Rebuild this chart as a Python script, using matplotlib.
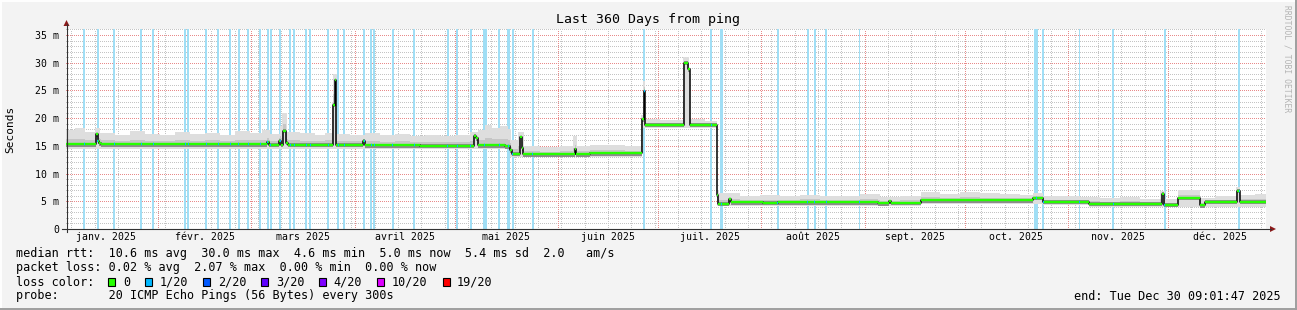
import numpy as np
import matplotlib
matplotlib.use("Agg")
import matplotlib.pyplot as plt
from matplotlib.lines import Line2D
from matplotlib.patches import Rectangle, Polygon

W, H = 1297, 310
MONO = "DejaVu Sans Mono"

# x axis = day of year 2025 (0 = 1 Jan 00:00), 360 days ending 30 Dec 09:01:47
t_start = 3.376
t_end = 363.376
y_top = 36.08

month_days = [31, 28, 31, 30, 31, 30, 31, 31, 30, 31, 30, 31]
month_labels = ["janv. 2025", "févr. 2025", "mars 2025", "avril 2025", "mai 2025",
                "juin 2025", "juil. 2025", "août 2025", "sept. 2025", "oct. 2025",
                "nov. 2025", "déc. 2025"]
first_monday = 5

# median rtt (ms), step function
median_day = [3.376, 12.40, 12.85, 13.30, 13.90, 63.70, 64.15, 67.30, 67.75, 68.50,
              69.40, 70.00, 83.50, 83.95, 84.40, 92.50, 92.96, 109.61, 125.81, 126.41,
              126.86, 135.11, 136.61, 137.21, 139.46, 140.06, 140.51, 155.96, 156.41, 160.61,
              176.21, 176.66, 177.11, 188.81, 190.01, 190.46, 198.57, 199.02, 202.32, 202.92,
              212.52, 217.02, 247.02, 250.32, 250.92, 259.92, 279.12, 293.53, 296.53, 310.33,
              332.23, 332.83, 337.03, 343.63, 345.13, 354.73, 355.48]
median_ms = [15.3, 17.1, 15.8, 15.5, 15.25, 15.7, 15.2, 15.9, 15.2, 17.7,
             15.6, 15.2, 22.4, 26.8, 15.2, 15.9, 15.1, 15.0, 16.8, 16.4,
             15.1, 14.9, 14.2, 13.6, 16.6, 14.6, 13.5, 14.4, 13.5, 13.7,
             19.8, 24.9, 18.8, 30.0, 28.8, 18.8, 6.1, 4.6, 5.4, 4.85,
             4.75, 4.85, 4.65, 5.0, 4.7, 5.2, 5.15, 5.6, 4.95, 4.55,
             6.4, 4.4, 5.6, 4.3, 4.95, 6.9, 4.95]

# top of the smoke (slowest pings)
smoke_day = [3.376, 6.10, 9.10, 12.10, 13.60, 18.10, 22.60, 27.10, 31.60, 36.10,
             40.60, 45.10, 49.60, 54.10, 58.60, 62.20, 64.60, 67.60, 68.20, 69.70,
             73.60, 78.10, 81.10, 83.20, 83.50, 84.70, 88.60, 93.10, 97.60, 102.11,
             106.61, 111.11, 115.61, 120.11, 124.61, 127.01, 129.11, 131.21, 133.61, 136.01,
             136.91, 139.01, 140.81, 145.61, 151.61, 155.51, 156.71, 160.61, 166.61, 171.11,
             175.91, 176.51, 177.11, 181.61, 188.51, 190.31, 195.11, 198.57, 199.32, 205.62,
             211.62, 217.62, 223.62, 229.62, 235.62, 241.62, 247.62, 253.62, 259.92, 265.62,
             271.62, 277.62, 283.62, 289.62, 293.53, 296.53, 301.63, 307.63, 313.63, 319.63,
             325.63, 331.63, 333.13, 337.03, 343.63, 348.13, 354.43, 355.63, 360.13]
smoke_hi = [17.8, 18.2, 17.5, 18.3, 17.4, 17.0, 17.6, 17.2, 17.0, 17.5,
            17.1, 17.4, 17.0, 17.6, 17.3, 17.8, 17.2, 18.5, 21.0, 17.5,
            17.3, 17.0, 17.4, 23.0, 28.0, 17.2, 17.0, 17.4, 16.9, 17.1,
            16.8, 17.0, 16.8, 16.9, 17.5, 17.8, 18.8, 18.3, 18.6, 18.0,
            16.0, 17.5, 15.0, 14.8, 15.0, 16.8, 15.0, 15.2, 15.1, 15.0,
            20.5, 26.7, 19.8, 19.6, 31.0, 19.8, 19.5, 7.0, 6.5, 6.0,
            6.1, 5.9, 6.2, 5.9, 6.0, 6.3, 5.8, 6.0, 6.6, 6.4,
            6.7, 6.5, 6.3, 6.2, 6.5, 6.0, 5.9, 5.8, 5.6, 5.8,
            5.5, 6.8, 5.4, 7.0, 5.6, 6.0, 7.6, 6.2, 6.3]

# bottom of the smoke (fastest pings)
lo_day = [3.376, 109.61, 136.61, 176.21, 198.57, 259.92, 296.53, 310.33]
lo_ms = [14.5, 14.4, 13.0, 18.2, 4.1, 4.5, 4.3, 4.0]

# periods with 1/20 packet loss
loss_day = [8.80, 12.85, 17.80, 25.90, 29.50, 39.10, 40.00, 45.40, 49.00, 52.60,
            55.15, 58.00, 61.60, 63.85, 64.75, 67.60, 70.60, 71.80, 75.40, 76.60,
            82.00, 85.00, 86.80, 92.90, 94.90, 95.90, 101.42, 107.81, 117.92, 120.80,
            124.82, 129.00, 133.40, 136.15, 137.42, 143.42, 176.90, 196.90, 200.00, 216.95,
            225.95, 227.93, 231.50, 241.40, 294.42, 296.61, 307.50, 317.61, 333.06, 355.29]
loss_len = [0.6] * len(loss_day)
for i, d in [(24, 0.8), (31, 1.3), (33, 0.8), (38, 0.8), (43, 0.4), (44, 1.0), (46, 0.3)]:
    loss_len[i] = d

title = "Last 360 Days from ping"
legend_rtt = "median rtt:  10.6 ms avg  30.0 ms max  4.6 ms min  5.0 ms now  5.4 ms sd  2.0   am/s"
legend_loss = "packet loss: 0.02 % avg  2.07 % max  0.00 % min  0.00 % now"
legend_probe = "probe:       20 ICMP Echo Pings (56 Bytes) every 300s"
legend_end = "end: Tue Dec 30 09:01:47 2025"
loss_names = ["0", "1/20", "2/20", "3/20", "4/20", "10/20", "19/20"]
loss_colors = ["#26ff00", "#00b8ff", "#0059ff", "#5e00ff", "#7e00ff", "#dd00ff", "#ff0000"]


def step_at(days, vals, t):
    idx = np.searchsorted(days, t, side="right") - 1
    return np.asarray(vals)[np.clip(idx, 0, None)]


def fx(x):
    return x / W


def fy(y):
    return 1 - y / H


fig = plt.figure(figsize=(W / 100, H / 100), dpi=100, facecolor="#f3f3f3")
ax = fig.add_axes([fx(66), fy(229), 1200 / W, 200 / H])
ax.set_facecolor("white")
for s in ax.spines.values():
    s.set_visible(False)
ax.set_xlim(t_start, t_end)
ax.set_ylim(0, y_top)

# loss bars
ax.bar(loss_day, y_top, width=loss_len, bottom=0, color="#a0def5", linewidth=0, zorder=1)

# grid, crisp dotted lines
dots = (0, (1, 2))
gkw = dict(lw=0.72, ls=dots, antialiased=False)
for v in range(1, 37):
    if v % 5:
        ax.axhline(v, color="#c4c4c4", zorder=0.5, **gkw)
    else:
        ax.axhline(v, color="#e88a8a", zorder=0.6, **gkw)
for d in np.arange(first_monday, t_end, 7):
    if d > t_start:
        ax.axvline(d, color="#c4c4c4", zorder=0.5, **gkw)
month_start = np.cumsum([0] + month_days)
for d in month_start:
    if t_start < d < t_end:
        ax.axvline(d, color="#e88a8a", zorder=0.6, **gkw)

# smoke
grid = np.unique(np.concatenate([median_day, smoke_day, lo_day, [t_end]]))
med = step_at(median_day, median_ms, grid)
hi = np.maximum(step_at(smoke_day, smoke_hi, grid), med + 0.3)
lo = np.minimum(step_at(lo_day, lo_ms, grid), med - 0.5)
ax.fill_between(grid, lo, hi, step="post", color="#dedede", lw=0, zorder=2)
ax.fill_between(grid, med - 0.35, med + 0.35 * (hi - med), step="post", color="#c6c6c6", lw=0, zorder=2.1)
ax.fill_between(grid, med - 0.45, med + 0.25, step="post", color="#8c8c8c", lw=0, zorder=2.2)

# median line
ax.step(grid, med, where="post", color="black", lw=1.1, zorder=3)
seg_end = list(median_day[1:]) + [t_end]
ax.hlines(median_ms, median_day, seg_end, colors=loss_colors[0], lw=1.7, zorder=3.1)
loss_arr = np.array(loss_day)
ax.hlines(step_at(median_day, median_ms, loss_arr), loss_arr - 0.15, loss_arr + 0.15,
          colors=loss_colors[1], lw=1.7, zorder=3.2)

# ticks
yt = list(range(0, 36, 5))
ax.set_yticks(yt)
ax.set_yticklabels(["0"] + ["%d m" % v for v in yt[1:]], fontfamily=MONO, fontsize=7.1)
month_mid = month_start[:-1] + np.array(month_days) / 2.0
ax.set_xticks(month_mid)
ax.set_xticklabels(month_labels, fontfamily=MONO, fontsize=7.1)
ax.tick_params(axis="both", length=0)
ax.tick_params(axis="y", pad=5)
ax.tick_params(axis="x", pad=2.5)

# axis lines and arrows
fig.add_artist(Line2D([fx(66.5), fx(66.5)], [fy(232), fy(24)], color="#333333", lw=0.8))
fig.add_artist(Line2D([fx(62), fx(1271)], [fy(229), fy(229)], color="#333333", lw=0.8))
fig.add_artist(Polygon([[fx(66.5), fy(20)], [fx(63.5), fy(26)], [fx(69.5), fy(26)]],
                       closed=True, color="#8b1a1a", lw=0))
fig.add_artist(Polygon([[fx(1276), fy(229)], [fx(1270), fy(226)], [fx(1270), fy(232)]],
                       closed=True, color="#8b1a1a", lw=0))

# texts
fig.text(0.5, fy(19), title, ha="center", va="center", fontfamily=MONO, fontsize=9.5)
fig.text(fx(10), fy(129), "Seconds", rotation=90, ha="center", va="center",
         fontfamily=MONO, fontsize=8)
fig.text(fx(1287), fy(59), "RRDTOOL / TOBI OETIKER", rotation=270, ha="center", va="center",
         fontfamily=MONO, fontsize=5.8, color="#b4b4b4")

x0, cw = 16, 7.1
fig.text(fx(x0), fy(254), legend_rtt, ha="left", va="center", fontfamily=MONO, fontsize=8.5)
fig.text(fx(x0), fy(268), legend_loss, ha="left", va="center", fontfamily=MONO, fontsize=8.5)
fig.text(fx(x0), fy(282), "loss color:", ha="left", va="center", fontfamily=MONO, fontsize=8.5)
fig.text(fx(x0), fy(296), legend_probe, ha="left", va="center", fontfamily=MONO, fontsize=8.5)
fig.text(fx(1281), fy(296), legend_end, ha="right", va="center", fontfamily=MONO, fontsize=8.5)

col = 13.0
for name, c in zip(loss_names, loss_colors):
    bx = x0 + col * cw
    fig.add_artist(Rectangle((fx(bx), fy(286)), 7 / W, 8 / H, facecolor=c,
                             edgecolor="black", lw=0.8))
    tc = col + 2.05
    fig.text(fx(x0 + tc * cw), fy(282), name, ha="left", va="center", fontfamily=MONO, fontsize=8.5)
    col = tc + len(name) + 2.13

# 3d frame
fig.add_artist(Line2D([0, 1], [fy(0.5), fy(0.5)], color="white", lw=1.4))
fig.add_artist(Line2D([fx(0.5), fx(0.5)], [0, 1], color="white", lw=1.4))
fig.add_artist(Line2D([0, 1], [fy(309), fy(309)], color="#9e9e9e", lw=1.4))
fig.add_artist(Line2D([fx(1296), fx(1296)], [0, 1], color="#9e9e9e", lw=1.4))

fig.savefig("out.png", dpi=100, facecolor=fig.get_facecolor())
